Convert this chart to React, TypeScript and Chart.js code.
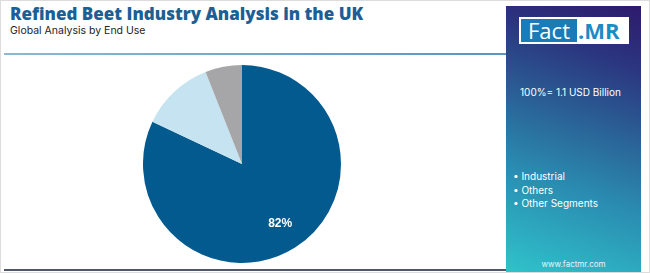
import React, { useEffect, useRef } from "react";
import { Chart, registerables } from "chart.js";

Chart.register(...registerables);

const categories = ["Industrial", "Others", "Other Segments"];
const shares = [82, 12, 6];
const sliceColors = ["#035a8f", "#c5e3f1", "#a6a6a8"];
const labelTexts = ["82%", "", ""];

const TITLE = "Refined Beet Industry Analysis in the UK";
const SUBTITLE = "Global Analysis by End Use";
const TOTAL = "100%= 1.1 USD Billion";
const SITE = "www.factmr.com";

const labelPlugin = {
  id: "sliceLabels",
  afterDatasetsDraw(chart: any) {
    const ctx = chart.ctx;
    const meta = chart.getDatasetMeta(0);
    meta.data.forEach((arc: any, i: number) => {
      const txt = labelTexts[i];
      if (!txt) return;
      const p = arc.getProps(["startAngle", "endAngle", "outerRadius", "x", "y"], true);
      const mid = (p.startAngle + p.endAngle) / 2;
      const r = p.outerRadius * 0.72;
      ctx.save();
      ctx.fillStyle = "#ffffff";
      ctx.font = "bold 12px 'Liberation Sans', Arial, sans-serif";
      ctx.textAlign = "center";
      ctx.textBaseline = "middle";
      ctx.fillText(txt, p.x + Math.cos(mid) * r, p.y + Math.sin(mid) * r);
      ctx.restore();
    });
  },
};

export default function App() {
  const ref = useRef<HTMLCanvasElement | null>(null);
  useEffect(() => {
    document.body.style.margin = "0";
    if (!ref.current) return;
    const chart = new Chart(ref.current, {
      type: "pie",
      data: {
        labels: categories,
        datasets: [
          {
            data: shares,
            backgroundColor: sliceColors,
            borderWidth: 0,
          },
        ],
      },
      options: {
        animation: false,
        responsive: false,
        maintainAspectRatio: false,
        layout: { padding: 0 },
        plugins: { legend: { display: false }, tooltip: { enabled: false } },
      },
      plugins: [labelPlugin],
    });
    return () => chart.destroy();
  }, []);

  const font = "Inter, 'Open Sans', sans-serif";
  return (
    <div
      style={{
        position: "fixed",
        left: 0,
        top: 0,
        width: 650,
        height: 273,
        background: "#ffffff",
        boxSizing: "border-box",
        border: "1px solid #dcdcdc",
        overflow: "hidden",
        fontFamily: font,
      }}
    >
      <div
        style={{
          position: "absolute",
          left: 9,
          top: 4,
          fontSize: 17,
          lineHeight: "17px",
          fontWeight: 800,
          color: "#1b5f95",
          whiteSpace: "nowrap",
          fontFamily: "'Open Sans', sans-serif",
        }}
      >
        {TITLE}
      </div>
      <div
        style={{
          position: "absolute",
          left: 9,
          top: 24.5,
          fontSize: 10.5,
          lineHeight: "10.5px",
          color: "#222",
          whiteSpace: "nowrap",
        }}
      >
        {SUBTITLE}
      </div>
      <div
        style={{
          position: "absolute",
          left: 3,
          top: 52,
          width: 502,
          height: 2,
          background: "linear-gradient(90deg, #8bb9cf, #5a95c0)",
        }}
      />
      <div
        style={{
          position: "absolute",
          left: 3,
          top: 268,
          width: 502,
          height: 2,
          background: "#4e5a6a",
        }}
      />
      <canvas
        ref={ref}
        width={198}
        height={198}
        style={{ position: "absolute", left: 142, top: 64, width: 198, height: 198 }}
      />
      <div
        style={{
          position: "absolute",
          left: 505,
          top: 5,
          width: 135,
          height: 266,
          background:
            "linear-gradient(20deg, #2fc3cb 0%, #2a8ab0 35%, #2a5b92 60%, #2b3580 80%, #2e1a6c 100%)",
        }}
      >
        <div
          style={{
            position: "absolute",
            left: 13,
            top: 11,
            width: 110,
            height: 27,
            background: "#ffffff",
          }}
        >
          <div
            style={{
              position: "absolute",
              left: 2,
              top: 2,
              width: 56,
              height: 23,
              background: "#1a7bb8",
              color: "#fff",
              fontSize: 22,
              lineHeight: "23px",
              textAlign: "center",
              fontFamily: "'Open Sans', sans-serif",
            }}
          >
            Fact
          </div>
          <div
            style={{
              position: "absolute",
              left: 59,
              top: 2,
              color: "#1a8cc4",
              fontSize: 22,
              fontWeight: 700,
              lineHeight: "23px",
              fontFamily: "'Open Sans', sans-serif",
            }}
          >
            .MR
          </div>
        </div>
        <div
          style={{
            position: "absolute",
            left: 14,
            top: 80,
            color: "#fff",
            fontSize: 10,
            whiteSpace: "nowrap",
          }}
        >
          {TOTAL}
        </div>
        <div style={{ position: "absolute", left: 7, top: 164, color: "#fff", fontSize: 10 }}>
          {categories.map((c) => (
            <div key={c} style={{ height: 13.5, lineHeight: "13.5px", whiteSpace: "nowrap" }}>
              • {c}
            </div>
          ))}
        </div>
        <div
          style={{
            position: "absolute",
            left: 0,
            width: 135,
            top: 253,
            textAlign: "center",
            color: "#e8f4f8",
            fontSize: 8,
          }}
        >
          {SITE}
        </div>
      </div>
    </div>
  );
}
